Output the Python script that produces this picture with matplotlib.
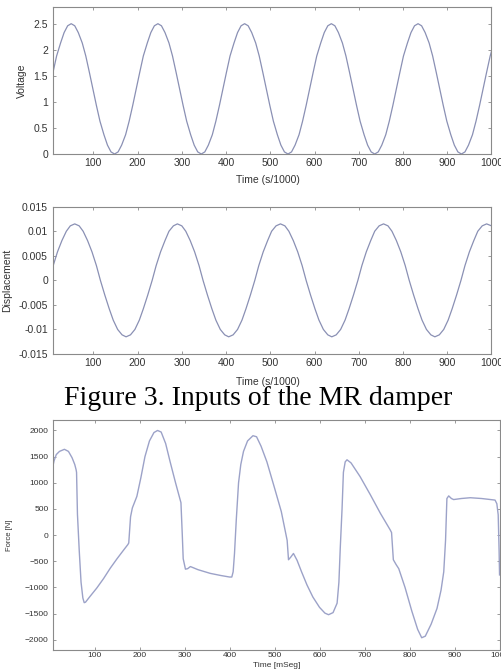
import matplotlib
matplotlib.use("Agg")
import matplotlib.pyplot as plt

# voltage input
voltage_t = [10, 17, 26, 34, 42,
             50, 58, 66, 75, 83, 91, 99, 107, 115, 124, 132, 140, 148, 156, 164, 173, 181, 189, 197, 205, 213, 222, 230, 238,
             246, 254, 262, 271, 279, 287, 295, 303, 311, 320, 328, 336, 344, 352, 360, 369, 377, 385, 393, 401, 409, 418, 426, 434,
             442, 450, 458, 467, 475, 483, 491, 499, 507, 516, 524, 532, 540, 548, 556, 565, 573, 581, 589, 597, 605, 614, 622, 630,
             638, 646, 654, 663, 671, 679, 687, 695, 703, 712, 720, 728, 736, 744, 752, 761, 769, 777, 785, 793, 801, 810, 818, 826,
             834, 842, 850, 859, 867, 875, 883, 891, 899, 908, 916, 924, 932, 940, 948, 957, 965, 973, 981, 989, 997, 1000]
voltage_v = [1.61, 1.88, 2.13, 2.33, 2.46,
             2.50, 2.46, 2.33, 2.13, 1.88, 1.57, 1.25, 0.93, 0.63, 0.37, 0.17, 0.04, 0.00, 0.04, 0.17, 0.37, 0.63, 0.93, 1.25, 1.57, 1.88, 2.13, 2.33, 2.46,
             2.50, 2.46, 2.33, 2.13, 1.88, 1.57, 1.25, 0.93, 0.63, 0.37, 0.17, 0.04, 0.00, 0.04, 0.17, 0.37, 0.63, 0.93, 1.25, 1.57, 1.88, 2.13, 2.33, 2.46,
             2.50, 2.46, 2.33, 2.13, 1.88, 1.57, 1.25, 0.93, 0.63, 0.37, 0.17, 0.04, 0.00, 0.04, 0.17, 0.37, 0.63, 0.93, 1.25, 1.57, 1.88, 2.13, 2.33, 2.46,
             2.50, 2.46, 2.33, 2.13, 1.88, 1.57, 1.25, 0.93, 0.63, 0.37, 0.17, 0.04, 0.00, 0.04, 0.17, 0.37, 0.63, 0.93, 1.25, 1.57, 1.88, 2.13, 2.33, 2.46,
             2.50, 2.46, 2.33, 2.13, 1.88, 1.57, 1.25, 0.93, 0.63, 0.37, 0.17, 0.04, 0.00, 0.04, 0.17, 0.37, 0.63, 0.93, 1.25, 1.57, 1.88, 1.97]

# displacement input (middle panel)
disp_t = [10, 19, 29, 39, 48,
          58, 68, 77, 87, 97, 107, 116, 126, 136, 145, 155, 165, 174, 184, 194, 204, 213, 223, 233, 242, 252, 262, 271, 281,
          290, 300, 309, 319, 329, 339, 348, 358, 368, 377, 387, 397, 406, 416, 426, 436, 445, 455, 465, 474, 484, 494, 503, 513,
          523, 533, 542, 552, 562, 572, 581, 591, 601, 610, 620, 630, 639, 649, 659, 669, 678, 688, 698, 707, 717, 727, 736, 746,
          756, 766, 775, 785, 795, 805, 814, 824, 834, 843, 853, 863, 872, 882, 892, 902, 911, 921, 931, 940, 950, 960, 969, 979,
          989, 1000]
disp_v = [0.0032, 0.0058, 0.0081, 0.0100, 0.0111,
          0.0115, 0.0111, 0.0100, 0.0081, 0.0058, 0.0030, 0.0, -0.0030, -0.0058, -0.0081, -0.0100, -0.0111,
          -0.0115, -0.0111, -0.0100, -0.0081, -0.0058, -0.0030, 0.0, 0.0030, 0.0058, 0.0081, 0.0100, 0.0111,
          0.0115, 0.0111, 0.0100, 0.0081, 0.0058, 0.0030, 0.0, -0.0030, -0.0058, -0.0081, -0.0100, -0.0111,
          -0.0115, -0.0111, -0.0100, -0.0081, -0.0058, -0.0030, 0.0, 0.0030, 0.0058, 0.0081, 0.0100, 0.0111,
          0.0115, 0.0111, 0.0100, 0.0081, 0.0058, 0.0030, 0.0, -0.0030, -0.0058, -0.0081, -0.0100, -0.0111,
          -0.0115, -0.0111, -0.0100, -0.0081, -0.0058, -0.0030, 0.0, 0.0030, 0.0058, 0.0081, 0.0100, 0.0111,
          0.0115, 0.0111, 0.0100, 0.0081, 0.0058, 0.0030, 0.0, -0.0030, -0.0058, -0.0081, -0.0100, -0.0111,
          -0.0115, -0.0111, -0.0100, -0.0081, -0.0058, -0.0030, 0.0, 0.0030, 0.0058, 0.0081, 0.0100, 0.0111,
          0.0115, 0.0111]

# measured damper force (bottom panel)
force_t = [7, 10, 15, 22, 33, 42, 50, 56, 59, 60, 62, 66, 70, 74, 77, 80, 90, 105, 120, 135,
           150, 165, 174, 176, 180, 184, 194, 203, 212, 222, 232, 240, 248, 258, 268, 280,
           292, 295, 297, 302, 307, 313, 330, 357, 380, 400, 405, 408, 411, 415, 420, 425,
           431, 440, 452, 460, 470, 483, 500, 515, 524, 528, 531, 536, 542, 550, 560, 572,
           585, 600, 612, 620, 630, 639, 643, 646, 650, 653, 657, 661, 670, 690, 713, 735,
           757, 760, 764, 770, 776, 790, 805, 818, 827, 835, 848, 861, 870, 876, 880, 883,
           887, 893, 898, 915, 935, 960, 980, 990, 994, 997, 999, 1000]
force_v = [1300, 1420, 1540, 1600, 1640, 1600, 1480, 1350, 1250, 1200, 400, -300, -900, -1200, -1290, -1280, -1170, -1010, -830, -630,
           -450, -280, -180, -150, 350, 520, 740, 1100, 1500, 1800, 1960, 2000, 1970, 1750, 1400, 1000,
           620, 0, -450, -650, -640, -600, -660, -730, -770, -800, -800, -700, -350, 300, 1000, 1350,
           1600, 1800, 1900, 1880, 1700, 1400, 900, 450, 70, -100, -470, -420, -350, -480, -700, -950,
           -1180, -1380, -1490, -1520, -1480, -1300, -900, -250, 500, 1200, 1400, 1440, 1380, 1120, 770, 420,
           100, 50, -470, -560, -640, -1000, -1450, -1800, -1960, -1930, -1700, -1400, -1050, -700, -100, 700,
           750, 700, 680, 700, 715, 700, 680, 670, 600, 388, -300, -760]

x_ticks = [100, 200, 300, 400, 500, 600, 700, 800, 900, 1000]
volt_ticks = [0, 0.5, 1, 1.5, 2, 2.5]
volt_labels = ["0", "0.5", "1", "1.5", "2", "2.5"]
disp_ticks = [-0.015, -0.01, -0.005, 0, 0.005, 0.01, 0.015]
disp_labels = ["-0.015", "-0.01", "-0.005", "0", "0.005", "0.01", "0.015"]
force_ticks = [-2000, -1500, -1000, -500, 0, 500, 1000, 1500, 2000]

plt.rcParams["font.family"] = ["Liberation Sans", "DejaVu Sans"]

W, H = 502, 670
fig = plt.figure(figsize=(W / 100, H / 100), dpi=100)


def rect(l, t, r, b):
    return [l / W, 1 - b / H, (r - l) / W, (b - t) / H]


def style(ax, size, pad_x, pad_y):
    for s in ax.spines.values():
        s.set_color("#8a8a8a")
        s.set_linewidth(0.8)
    ax.tick_params(direction="in", top=True, right=True, length=2.5, width=0.6,
                   color="#8a8a8a", labelsize=size, labelcolor="#333333")
    ax.tick_params(axis="x", pad=pad_x)
    ax.tick_params(axis="y", pad=pad_y)


line_col = "#8a90b4"

ax1 = fig.add_axes(rect(53.5, 6.5, 491.5, 154))
ax1.plot(voltage_t, voltage_v, color=line_col, lw=0.9)
ax1.set_xlim(10, 1000)
ax1.set_ylim(0, 2.83)
ax1.set_xticks(x_ticks)
ax1.set_yticks(volt_ticks)
ax1.set_yticklabels(volt_labels)
style(ax1, 7.5, 3, 4)
ax1.set_xlabel("Time (s/1000)", fontsize=7.5, color="#333333")
ax1.xaxis.set_label_coords(0.49, -0.145)
ax1.set_ylabel("Voltage", fontsize=7.5, color="#333333")
ax1.yaxis.set_label_coords(-0.061, 0.5)

ax2 = fig.add_axes(rect(53.5, 206.7, 491.5, 354))
ax2.plot(disp_t, disp_v, color=line_col, lw=0.9)
ax2.set_xlim(10, 1000)
ax2.set_ylim(-0.015, 0.015)
ax2.set_xticks(x_ticks)
ax2.set_yticks(disp_ticks)
ax2.set_yticklabels(disp_labels)
style(ax2, 7.5, 3, 4)
ax2.set_xlabel("Time (s/1000)", fontsize=7.5, color="#333333")
ax2.xaxis.set_label_coords(0.49, -0.155)
ax2.set_ylabel("Displacement", fontsize=7.5, color="#333333")
ax2.yaxis.set_label_coords(-0.095, 0.5)

fig.text(258 / W, 1 - 404.5 / H, "Figure 3. Inputs of the MR damper",
         family=["Liberation Serif", "DejaVu Serif"], fontsize=20,
         ha="center", va="baseline", color="black")

ax3 = fig.add_axes(rect(52.7, 420, 500, 650.3))
ax3.plot(force_t, force_v, color="#9ca2c8", lw=1.0)
ax3.set_xlim(7, 1001)
ax3.set_ylim(-2200, 2200)
ax3.set_xticks(x_ticks)
ax3.set_yticks(force_ticks)
style(ax3, 6, 1.5, 3)
ax3.set_xlabel("Time [mSeg]", fontsize=6, color="#333333")
ax3.xaxis.set_label_coords(0.50, -0.052)
ax3.set_ylabel("Force [N]", fontsize=5.5, color="#333333")
ax3.yaxis.set_label_coords(-0.088, 0.5)

fig.savefig("out.png", dpi=100)
